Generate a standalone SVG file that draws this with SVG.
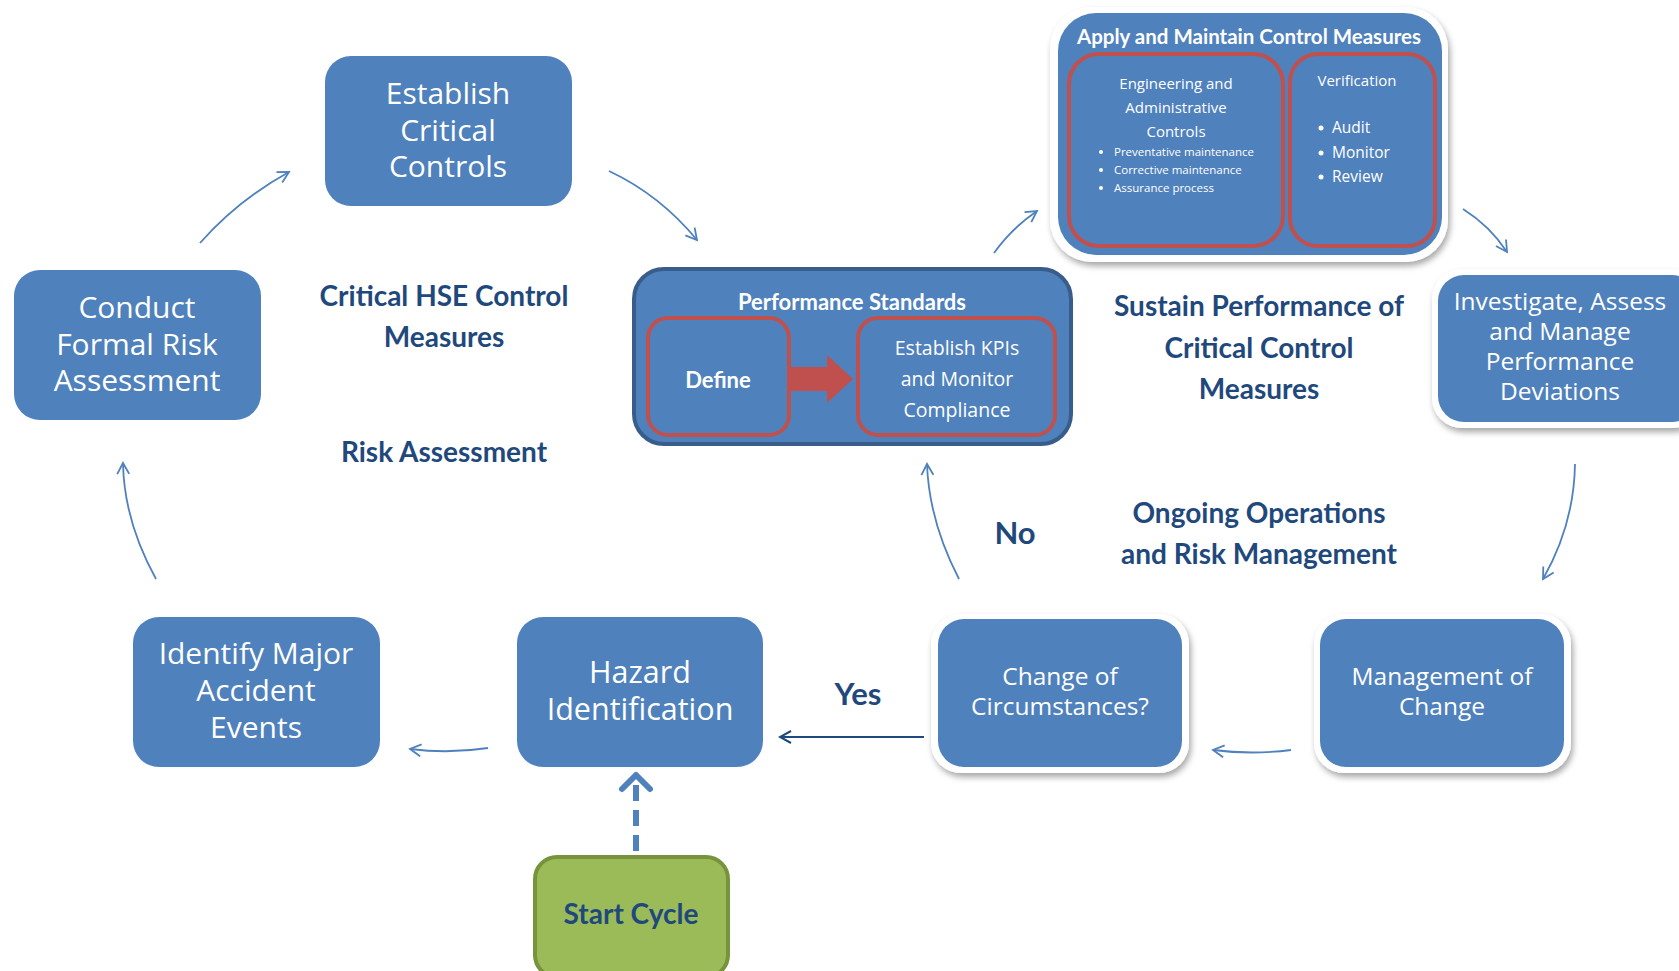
<svg xmlns="http://www.w3.org/2000/svg" width="1679" height="971" viewBox="0 0 1679 971">
<defs>
<style>
.box{fill:#4F81BD}
.wb{fill:#FFFFFF}
.red{fill:none;stroke:#C0504D;stroke-width:4}
.nt{font-family:"Open Sans","DejaVu Sans",sans-serif;fill:#FFFFFF;text-anchor:middle}
.st{text-anchor:start}
.lb{font-family:Lato,"Open Sans",sans-serif;font-weight:bold;fill:#1F497D;text-anchor:middle}
.wbold{font-family:Lato,"Open Sans",sans-serif;font-weight:bold;fill:#FFFFFF;text-anchor:middle}
.con{fill:none;stroke:#4F81BD;stroke-width:1.8}
</style>
<marker id="ah" viewBox="0 0 14 14" refX="12" refY="7" markerWidth="14" markerHeight="14" markerUnits="userSpaceOnUse" orient="auto">
<path d="M1 1 L12 7 L1 13" fill="none" stroke="#4F81BD" stroke-width="1.8"/>
</marker>
<marker id="ahd" viewBox="0 0 14 14" refX="12" refY="7" markerWidth="14" markerHeight="14" markerUnits="userSpaceOnUse" orient="auto">
<path d="M1 1 L12 7 L1 13" fill="none" stroke="#1F497D" stroke-width="2"/>
</marker>
<filter id="sh" x="-10%" y="-10%" width="125%" height="130%">
<feDropShadow dx="2" dy="4" stdDeviation="3" flood-color="#000000" flood-opacity="0.35"/>
</filter>
</defs>
<rect width="1679" height="971" fill="#FFFFFF"/>

<g id="connectors">
<path class="con" d="M200 243 Q238 200 289 172" marker-end="url(#ah)"/>
<path class="con" d="M609 171 Q660 195 697 240" marker-end="url(#ah)"/>
<path class="con" d="M994 253 Q1012 228 1037 211" marker-end="url(#ah)"/>
<path class="con" d="M1463 209 Q1490 226 1507 252" marker-end="url(#ah)"/>
<path class="con" d="M1575 464 Q1574 525 1543 579" marker-end="url(#ah)"/>
<path class="con" d="M1291 750 Q1252 755 1213 750" marker-end="url(#ah)"/>
<path d="M924 737 L780 737" fill="none" stroke="#1F497D" stroke-width="2" marker-end="url(#ahd)"/>
<path class="con" d="M488 748 Q449 754 410 749" marker-end="url(#ah)"/>
<path class="con" d="M156 579 Q124 521 123 463" marker-end="url(#ah)"/>
<path class="con" d="M959 579 Q929 521 927 464" marker-end="url(#ah)"/>
<path d="M636 851 L636 782" fill="none" stroke="#4F81BD" stroke-width="6" stroke-dasharray="16 9"/>
<path d="M622 789 L636 775 L650 789" fill="none" stroke="#4F81BD" stroke-width="6" stroke-linecap="round" stroke-linejoin="round"/>
</g>

<g id="establish-critical-controls">
<rect class="box" x="325" y="56" width="247" height="150" rx="26"/>
<text class="nt" font-size="30" x="448" y="104">Establish</text>
<text class="nt" font-size="30" x="448" y="140.5">Critical</text>
<text class="nt" font-size="30" x="448" y="177">Controls</text>
</g>

<g id="conduct-formal-risk-assessment">
<rect class="box" x="14" y="270" width="247" height="150" rx="26"/>
<text class="nt" font-size="30" x="137" y="318">Conduct</text>
<text class="nt" font-size="30" x="137" y="354.5">Formal Risk</text>
<text class="nt" font-size="30" x="137" y="391">Assessment</text>
</g>

<g id="identify-major-accident-events">
<rect class="box" x="133" y="617" width="247" height="150" rx="26"/>
<text class="nt" font-size="30" x="256" y="664">Identify Major</text>
<text class="nt" font-size="30" x="256" y="701">Accident</text>
<text class="nt" font-size="30" x="256" y="738">Events</text>
</g>

<g id="hazard-identification">
<rect class="box" x="517" y="617" width="246" height="150" rx="26"/>
<text class="nt" font-size="30.5" x="640" y="683">Hazard</text>
<text class="nt" font-size="30.5" x="640" y="720">Identification</text>
</g>

<g id="start-cycle">
<rect x="535" y="857" width="193" height="120" rx="22" fill="#9BBB59" stroke="#77933C" stroke-width="4"/>
<text class="lb" font-size="28" x="631" y="924">Start Cycle</text>
</g>

<g id="change-of-circumstances">
<rect class="wb" x="931" y="614" width="258" height="159" rx="30" filter="url(#sh)"/>
<rect class="box" x="938" y="619" width="244" height="148" rx="26"/>
<text class="nt" font-size="24.5" x="1060" y="685">Change of</text>
<text class="nt" font-size="24.5" x="1060" y="715">Circumstances?</text>
</g>

<g id="management-of-change">
<rect class="wb" x="1314" y="614" width="257" height="159" rx="30" filter="url(#sh)"/>
<rect class="box" x="1320" y="619" width="244" height="148" rx="26"/>
<text class="nt" font-size="24.5" x="1442" y="685">Management of</text>
<text class="nt" font-size="24.5" x="1442" y="715">Change</text>
</g>

<g id="investigate-assess-manage">
<rect class="wb" x="1432" y="269" width="270" height="159" rx="30" filter="url(#sh)"/>
<rect class="box" x="1438" y="275" width="260" height="147" rx="26"/>
<text class="nt" font-size="24.5" x="1560" y="310">Investigate, Assess</text>
<text class="nt" font-size="24.5" x="1560" y="340">and Manage</text>
<text class="nt" font-size="24.5" x="1560" y="370">Performance</text>
<text class="nt" font-size="24.5" x="1560" y="400">Deviations</text>
</g>

<g id="performance-standards">
<rect class="box" x="634" y="269" width="437" height="175" rx="30" stroke="#385D8A" stroke-width="4"/>
<text class="wbold" font-size="22" x="852" y="310">Performance Standards</text>
<g id="define">
<rect class="red" x="648" y="318" width="141" height="117" rx="20"/>
<text class="wbold" font-size="22" x="718" y="388">Define</text>
</g>
<path d="M788 367 L827 367 L827 355 L853 379 L827 403 L827 391 L788 391 Z" fill="#C0504D"/>
<g id="establish-kpis">
<rect class="red" x="858" y="318" width="197" height="117" rx="20"/>
<text class="nt" font-size="19.5" x="957" y="355">Establish KPIs</text>
<text class="nt" font-size="19.5" x="957" y="386">and Monitor</text>
<text class="nt" font-size="19.5" x="957" y="417">Compliance</text>
</g>
</g>

<g id="apply-and-maintain">
<rect class="wb" x="1050" y="7" width="398" height="255" rx="42" filter="url(#sh)"/>
<rect class="box" x="1058" y="13" width="384" height="242" rx="38"/>
<text class="wbold" font-size="20.5" x="1249" y="44">Apply and Maintain Control Measures</text>
<g id="engineering-controls">
<rect class="red" x="1069" y="54" width="214" height="192" rx="30"/>
<text class="nt" font-size="15" x="1176" y="89">Engineering and</text>
<text class="nt" font-size="15" x="1176" y="113">Administrative</text>
<text class="nt" font-size="15" x="1176" y="137">Controls</text>
<circle cx="1101" cy="152" r="2" fill="#FFFFFF"/>
<circle cx="1101" cy="170" r="2" fill="#FFFFFF"/>
<circle cx="1101" cy="188" r="2" fill="#FFFFFF"/>
<text class="nt st" font-size="11.5" x="1114" y="156">Preventative maintenance</text>
<text class="nt st" font-size="11.5" x="1114" y="174">Corrective maintenance</text>
<text class="nt st" font-size="11.5" x="1114" y="192">Assurance process</text>
</g>
<g id="verification">
<rect class="red" x="1290" y="54" width="145" height="192" rx="28"/>
<text class="nt" font-size="15" x="1357" y="86">Verification</text>
<circle cx="1321" cy="128" r="2.5" fill="#FFFFFF"/>
<circle cx="1321" cy="153" r="2.5" fill="#FFFFFF"/>
<circle cx="1321" cy="177" r="2.5" fill="#FFFFFF"/>
<text class="nt st" font-size="15.5" x="1332" y="133">Audit</text>
<text class="nt st" font-size="15.5" x="1332" y="158">Monitor</text>
<text class="nt st" font-size="15.5" x="1332" y="182">Review</text>
</g>
</g>

<g id="labels">
<text class="lb" font-size="28" x="444" y="306">Critical HSE Control</text>
<text class="lb" font-size="28" x="444" y="347">Measures</text>
<text class="lb" font-size="28" x="444" y="462">Risk Assessment</text>
<text class="lb" font-size="28" x="1259" y="316">Sustain Performance of</text>
<text class="lb" font-size="28" x="1259" y="358">Critical Control</text>
<text class="lb" font-size="28" x="1259" y="399">Measures</text>
<text class="lb" font-size="28" x="1259" y="523">Ongoing Operations</text>
<text class="lb" font-size="28" x="1259" y="564">and Risk Management</text>
<text class="lb" font-size="31" x="1015" y="544">No</text>
<text class="lb" font-size="31" x="858" y="705">Yes</text>
</g>
</svg>
